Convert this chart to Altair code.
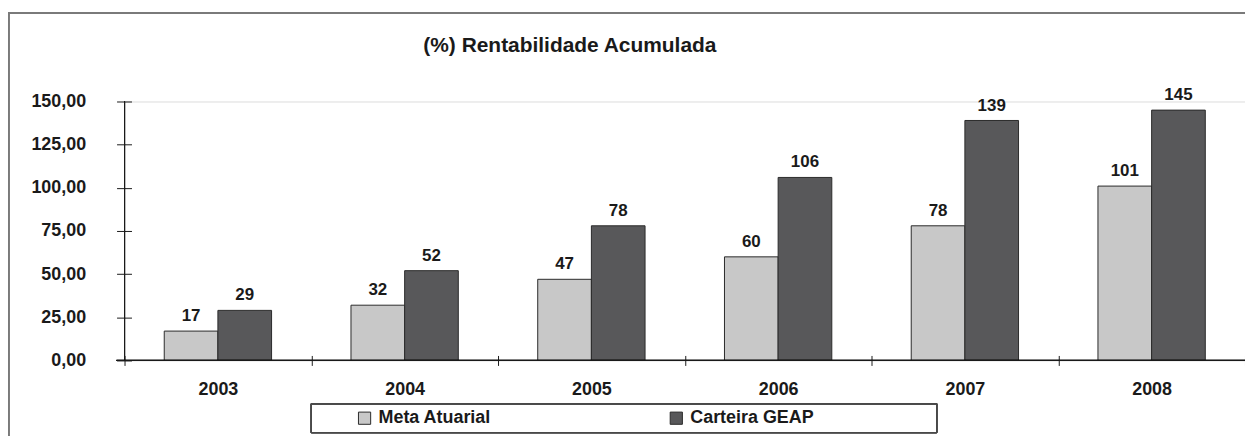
import altair as alt
import pandas as pd

years = ["2003", "2004", "2005", "2006", "2007", "2008"]
meta_atuarial = [17, 32, 47, 60, 78, 101]
carteira_geap = [29, 52, 78, 106, 139, 145]
series_names = ["Meta Atuarial", "Carteira GEAP"]
y_ticks = [0, 25, 50, 75, 100, 125, 150]
colors = ["#c8c8c8", "#58585a"]
chart_title = "(%) Rentabilidade Acumulada"

rows = []
for i, y in enumerate(years):
    rows.append({"ano": y, "serie": series_names[0], "valor": meta_atuarial[i]})
    rows.append({"ano": y, "serie": series_names[1], "valor": carteira_geap[i]})
df = pd.DataFrame(rows)

FONT = "Liberation Sans"
FS = 17
FS_AX = 18
W, H = 1125, 260

x_enc = alt.X("ano:N", sort=years, title=None,
              scale=alt.Scale(paddingInner=0, paddingOuter=0),
              axis=alt.Axis(offset=-5, tickSize=10, tickBand="extent", domain=False,
                            labelAngle=0, labelPadding=15, labelFont=FONT,
                            labelFontSize=FS_AX, labelFontWeight="bold", labelColor="#1a1a1a",
                            tickColor="#1a1a1a", tickWidth=1))
xoff_enc = alt.XOffset("serie:N", sort=series_names,
                       scale=alt.Scale(paddingOuter=0.74, paddingInner=0))
y_enc = alt.Y("valor:Q", title=None,
              scale=alt.Scale(domain=[0, 150], nice=False, zero=True),
              axis=alt.Axis(values=y_ticks, offset=-7, tickSize=15, domain=False, grid=False,
                            labelExpr="replace(format(datum.value, '.2f'), '.', ',')",
                            labelPadding=31, labelFont=FONT, labelFontSize=FS_AX,
                            labelFontWeight="bold", labelColor="#1a1a1a",
                            tickColor="#1a1a1a", tickWidth=1))

bars = alt.Chart(df).mark_bar(stroke="#2a2a2a", strokeWidth=1).encode(
    x=x_enc,
    xOffset=xoff_enc,
    y=y_enc,
    color=alt.Color("serie:N", sort=series_names, title=None,
                    scale=alt.Scale(domain=series_names, range=colors),
                    legend=alt.Legend(orient="none", legendX=232, legendY=H + 49,
                                      direction="horizontal", padding=0,
                                      symbolType="square", symbolSize=150,
                                      symbolStrokeColor="#2a2a2a", symbolStrokeWidth=1,
                                      symbolOffset=0, labelOffset=5,
                                      labelFont=FONT, labelFontSize=FS_AX,
                                      labelFontWeight="bold", labelColor="#1a1a1a",
                                      columnPadding=176, labelLimit=300)),
)

labels = alt.Chart(df).mark_text(baseline="bottom", dy=-6, font=FONT, fontSize=FS,
                                 fontWeight="bold", color="#1a1a1a").encode(
    x=alt.X("ano:N", sort=years),
    xOffset=alt.XOffset("serie:N", sort=series_names),
    y=alt.Y("valor:Q"),
    text=alt.Text("valor:Q", format="d"),
)

y_domain = alt.Chart(df).mark_rule(color="#1a1a1a", strokeWidth=1).encode(
    x=alt.value(0), y=alt.datum(0), y2=alt.datum(150))
x_domain = alt.Chart(df).mark_rule(color="#1a1a1a", strokeWidth=1).encode(
    x=alt.value(-8), x2=alt.value(W), y=alt.datum(0))

legend_box = alt.Chart(df).mark_rect(fill="white", fillOpacity=0, stroke="#4a4a4a",
                                     strokeWidth=1).encode(
    x=alt.value(187.5), x2=alt.value(815.5), y=alt.value(H + 43.5), y2=alt.value(H + 72.5))

outer_box = alt.Chart(df).mark_rect(fill="white", fillOpacity=0, stroke="#7a7a7a",
                                    strokeWidth=1.5).encode(
    x=alt.value(-116.5), x2=alt.value(W + 60), y=alt.value(-88.5), y2=alt.value(H + 120))

title_text = alt.Chart(pd.DataFrame({"t": [chart_title]})).mark_text(
    align="left", baseline="alphabetic", font=FONT, fontSize=21, fontWeight="bold",
    color="#1a1a1a").encode(x=alt.value(300), y=alt.value(-50), text="t:N")

chart = alt.layer(outer_box, legend_box, bars, labels, y_domain, x_domain, title_text).properties(
    width=W, height=H,
    autosize=alt.AutoSizeParams(type="none"),
    padding={"left": 117, "top": 93, "right": 0, "bottom": 75},
).configure_view(stroke=None).configure(background="white")

chart.save("out.html", embed_options={"renderer": "svg", "actions": False})
